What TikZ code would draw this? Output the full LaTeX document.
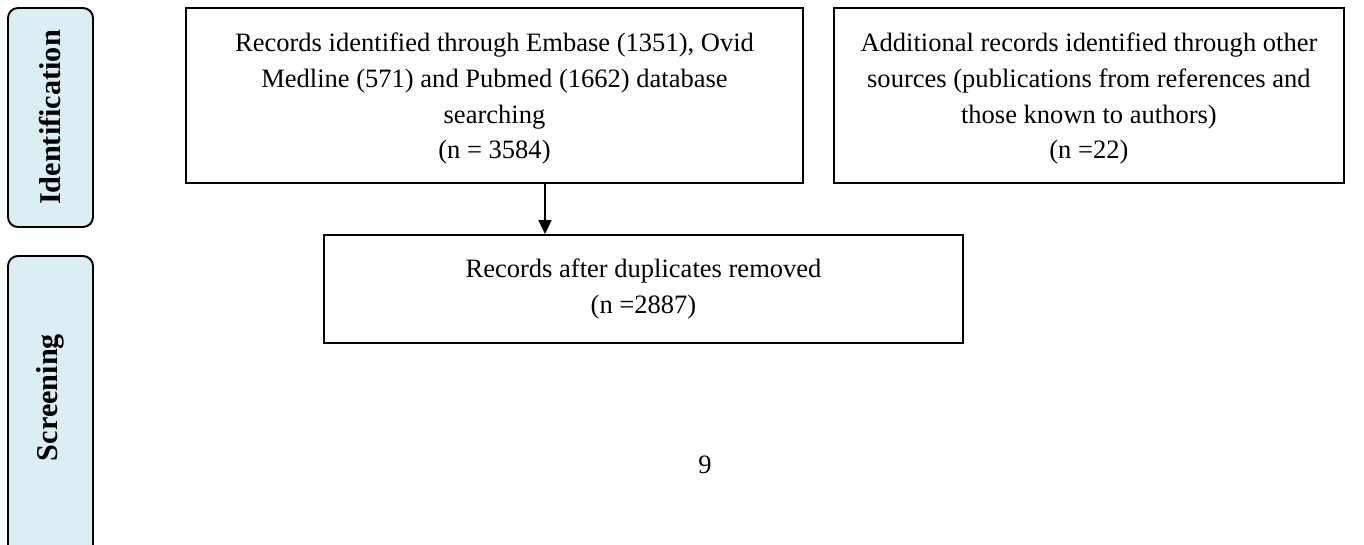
\documentclass[tikz,border=0pt]{standalone}
\usepackage{fontspec}
\setmainfont{Liberation Serif}
\usetikzlibrary{arrows.meta, positioning}
\definecolor{phasefill}{HTML}{DAEEF3}

\begin{document}
\begin{tikzpicture}[
        node distance=0.58cm,
        box/.style={draw, line width=1.1pt, align=center, inner sep=0pt, font=\fontsize{15.1}{20.3}\selectfont},
        phase/.style={draw, line width=1.1pt, rounded corners=0.2cm, fill=phasefill, rotate=90, minimum height=1.7cm, font=\fontsize{17.2}{20}\selectfont\bfseries},
        arr/.style={-{Triangle[width=0.26cm, length=0.28cm]}, line width=1.1pt}
      ]
      \useasboundingbox (0,0) rectangle (27.28,-10.88);
      % phase labels
      \node[phase, minimum width=4.38cm] (ident) at (1.01,-2.35) {Identification};
      \node[phase, anchor=east, text width=5cm, align=right, inner xsep=1.56cm] (screen) at (1.01,-5.1) {Screening};
      % records
      \node[box, minimum width=12.34cm, minimum height=3.5cm] (db) at (9.89,-1.91)
        {\rule{0pt}{0.5cm}Records identified through Embase (1351), Ovid\\Medline (571) and Pubmed (1662) database\\searching\\(n = 3584)};
      \node[box, minimum width=10.2cm, minimum height=3.5cm, right=of db] (other)
        {\rule{0pt}{0.5cm}Additional records identified through other\\sources (publications from references and\\those known to authors)\\(n =22)};
      \node[box, minimum width=12.78cm, minimum height=2.16cm] (dedup) at (12.87,-5.78)
        {Records after duplicates removed\\(n =2887)};
      \node[font=\fontsize{15.1}{17}\selectfont] (page) at (14.1,-9.3) {9};
      \coordinate (split) at (10.9,0);
      \draw[arr] (db.south -| split) -- (split |- dedup.north);
    \end{tikzpicture}
\end{document}
